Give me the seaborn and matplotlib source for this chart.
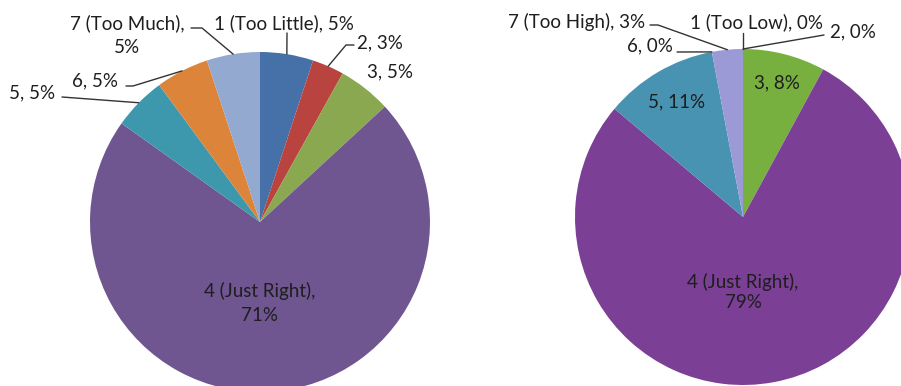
import numpy as np
import matplotlib
matplotlib.use("Agg")
import matplotlib.pyplot as plt
import seaborn as sns

sns.set_theme(style="white")
plt.rcParams['font.family'] = ['Lato', 'DejaVu Sans']

# ---- data ----
left_categories = ["1 (Too Little)", "2", "3", "4 (Just Right)", "5", "6", "7 (Too Much)"]
left_values = [5, 3, 5, 71, 5, 5, 5]
left_colors = ["#4571A8", "#B8433F", "#8AA84F", "#6F5690", "#3D98AE", "#DC843A", "#93A9D0"]

right_categories = ["1 (Too Low)", "2", "3", "4 (Just Right)", "5", "6", "7 (Too High)"]
right_values = [0, 0, 8, 79, 11, 0, 3]
right_colors = ["#4571A8", "#B8433F", "#78B040", "#7B3F95", "#4892B2", "#DC843A", "#9C9AD6"]

W, H = 901, 386
fig = plt.figure(figsize=(W / 100, H / 100), dpi=100)

FS = 13.5


def make_axes(x0, x1, cx, cy, r):
    ax = fig.add_axes([x0 / W, 0, (x1 - x0) / W, 1])
    return ax, (lambda px, py: ((px - cx) / r, (cy - py) / r)), ((x0 - cx) / r, (x1 - cx) / r), ((cy - H) / r, cy / r)


def draw_pie(ax, values, colors, xlim, ylim):
    wedges, _ = ax.pie(values, colors=colors, startangle=90, counterclock=False,
                       radius=1, wedgeprops=dict(linewidth=0))
    ax.set_xlim(*xlim)
    ax.set_ylim(*ylim)
    ax.set_aspect('auto')
    ax.axis('off')
    return wedges


def edge_point(w):
    a = np.deg2rad((w.theta1 + w.theta2) / 2)
    return np.cos(a), np.sin(a)


def label(ax, conv, text, px, py, ha="center", va="center", ls=1.45):
    x, y = conv(px, py)
    ax.text(x, y, text, ha=ha, va=va, fontsize=FS, color="#1e1e1e", linespacing=ls)


def leader(ax, conv, w, pts):
    xs, ys = [], []
    for (px, py) in pts:
        x, y = conv(px, py)
        xs.append(x)
        ys.append(y)
    ex, ey = edge_point(w)
    xs.append(ex)
    ys.append(ey)
    ax.plot(xs, ys, color="#333333", lw=1.0, clip_on=False)


# ---- left pie ----
axL, convL, xlimL, ylimL = make_axes(0, 455, 260, 222, 170)
wl = draw_pie(axL, left_values, left_colors, xlimL, ylimL)

label(axL, convL, f"{left_categories[0]}, {left_values[0]}%", 284, 23)
leader(axL, convL, wl[0], [(287, 33)])
label(axL, convL, f"{left_categories[1]}, {left_values[1]}%", 357, 43, ha="left")
leader(axL, convL, wl[1], [(354, 45), (346, 45)])
label(axL, convL, f"{left_categories[2]}, {left_values[2]}%", 367, 72, ha="left")
label(axL, convL, f"{left_categories[3]},\n{left_values[3]}%", 260, 303, ls=1.55)
label(axL, convL, f"{left_categories[4]}, {left_values[4]}%", 55, 93, ha="right")
leader(axL, convL, wl[4], [(62, 97)])
label(axL, convL, f"{left_categories[5]}, {left_values[5]}%", 118, 81, ha="right")
leader(axL, convL, wl[5], [(126, 86), (133, 86)])
label(axL, convL, f"{left_categories[6]},\n{left_values[6]}%", 127, 35, ls=1.5)
leader(axL, convL, wl[6], [(191, 28), (202, 28)])

# ---- right pie ----
axR, convR, xlimR, ylimR = make_axes(500, 901, 743, 217, 168)
wr = draw_pie(axR, right_values, right_colors, xlimR, ylimR)

label(axR, convR, f"{right_categories[0]}, {right_values[0]}%", 757, 22)
leader(axR, convR, wr[0], [(743, 33)])
label(axR, convR, f"{right_categories[1]}, {right_values[1]}%", 830, 32, ha="left")
leader(axR, convR, wr[1], [(824, 35)])
label(axR, convR, f"{right_categories[2]}, {right_values[2]}%", 777, 83)
label(axR, convR, f"{right_categories[3]},\n{right_values[3]}%", 743, 292, ls=1.2)
label(axR, convR, f"{right_categories[4]}, {right_values[4]}%", 677, 102)
label(axR, convR, f"{right_categories[5]}, {right_values[5]}%", 673, 46, ha="right")
leader(axR, convR, wr[5], [(677, 52)])
label(axR, convR, f"{right_categories[6]}, {right_values[6]}%", 645, 22, ha="right")
leader(axR, convR, wr[6], [(650, 25), (658, 25)])

fig.savefig("out.png", dpi=100)
